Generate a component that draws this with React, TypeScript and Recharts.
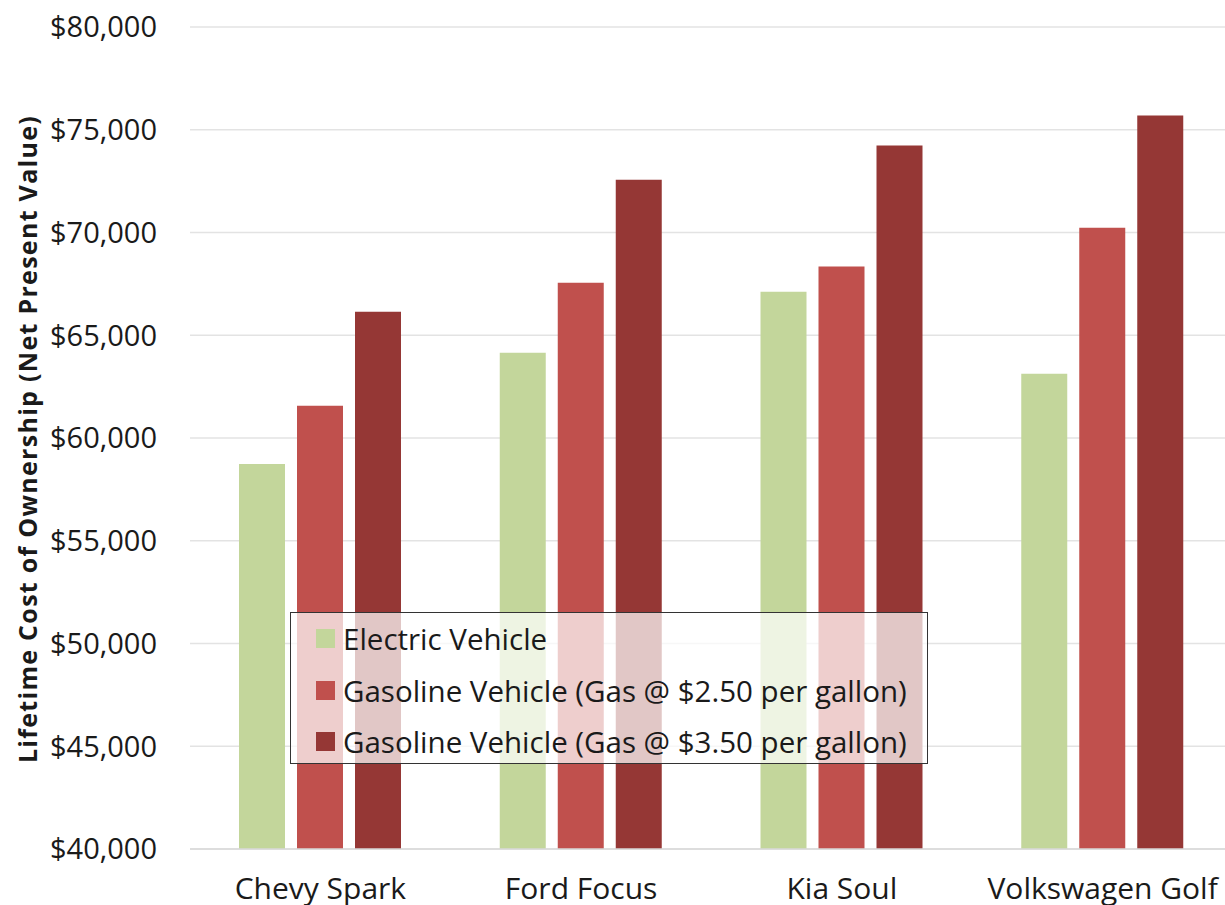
import React from 'react';
import { BarChart, Bar, XAxis, YAxis, CartesianGrid, Legend } from 'recharts';

const categories = ['Chevy Spark', 'Ford Focus', 'Kia Soul', 'Volkswagen Golf'];
const electric = [58740, 64150, 67120, 63130];
const gas250 = [61570, 67560, 68340, 70230];
const gas350 = [66140, 72570, 74230, 75690];
const yTicks = [40000, 45000, 50000, 55000, 60000, 65000, 70000, 75000, 80000];

const seriesNames = [
  'Electric Vehicle',
  'Gasoline Vehicle (Gas @ $2.50 per gallon)',
  'Gasoline Vehicle (Gas @ $3.50 per gallon)',
];
const seriesColors = ['#C3D69B', '#C0504D', '#953735'];

const data = categories.map((name, i) => ({
  name,
  ev: electric[i],
  g250: gas250[i],
  g350: gas350[i],
}));

const fmt = (v: number) => `$${v.toLocaleString('en-US')}`;

const LegendBox = (props: any) => {
  const items = props.payload || [];
  return (
    <div
      style={{
        width: 638,
        height: 152,
        boxSizing: 'border-box',
        border: '1.5px solid #333',
        background: 'rgba(255,255,255,0.72)',
        padding: '0 0 0 25px',
      }}
    >
      {items.map((it: any) => (
        <div
          key={it.value}
          style={{ display: 'flex', alignItems: 'center', height: 51.5, fontSize: 29.5, color: '#1a1a1a' }}
        >
          <span style={{ width: 19, height: 19, background: it.color, marginRight: 8, display: 'inline-block' }} />
          <span>{it.value}</span>
        </div>
      ))}
    </div>
  );
};

const AxisTitle = () => (
  <text
    x={27}
    y={439}
    transform="rotate(-90 27 439)"
    textAnchor="middle"
    dominantBaseline="central"
    fontSize={25}
    fontWeight={700}
    letterSpacing={1.3}
    fill="#1a1a1a"
  >
    Lifetime Cost of Ownership (Net Present Value)
  </text>
);

export default function App() {
  return (
    <div
      style={{
        position: 'absolute',
        left: 0,
        top: 0,
        width: 1225,
        height: 905,
        overflow: 'hidden',
        background: '#fff',
        fontFamily: '"Open Sans", sans-serif',
      }}
    >
      <BarChart
        width={1240}
        height={905}
        data={data}
        margin={{ top: 27, right: 7, left: 0, bottom: 0 }}
        barSize={46}
        barGap={12}
      >
        <CartesianGrid vertical={false} stroke="#e3e3e3" strokeWidth={1.5} />
        <XAxis
          dataKey="name"
          height={56}
          interval={0}
          tickLine={false}
          axisLine={{ stroke: '#d9d9d9', strokeWidth: 1.5 }}
          tickMargin={23}
          tick={{ fontSize: 30, fill: '#1a1a1a' }}
        />
        <YAxis
          width={190}
          domain={[40000, 80000]}
          ticks={yTicks}
          allowDataOverflow
          tickFormatter={fmt}
          tickLine={false}
          axisLine={false}
          tickMargin={27}
          tick={{ fontSize: 29, fill: '#1a1a1a' }}
          label={{ position: 'center', content: () => <AxisTitle /> }}
        />
        <Legend
          layout="vertical"
          verticalAlign="middle"
          align="center"
          wrapperStyle={{ left: 290, top: 612, width: 638, height: 152 }}
          content={LegendBox}
        />
        <Bar dataKey="ev" name={seriesNames[0]} fill={seriesColors[0]} isAnimationActive={false} />
        <Bar dataKey="g250" name={seriesNames[1]} fill={seriesColors[1]} isAnimationActive={false} />
        <Bar dataKey="g350" name={seriesNames[2]} fill={seriesColors[2]} isAnimationActive={false} />
      </BarChart>
    </div>
  );
}
